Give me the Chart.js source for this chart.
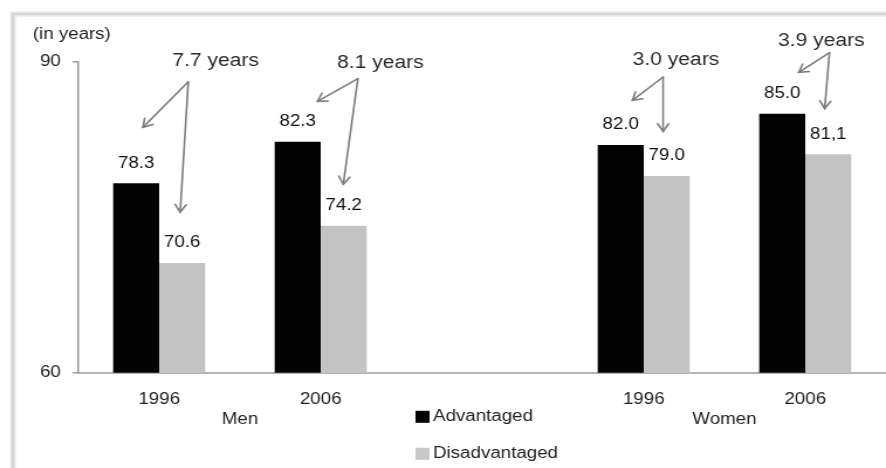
<!DOCTYPE html>
<html>
<head>
<meta charset="utf-8">
<script src="https://cdn.jsdelivr.net/npm/chart.js@4.4.1/dist/chart.umd.min.js"></script>
<style>
    body { margin: 0; background: #fff; }
</style>
</head>
<body>
<!-- the original picture is stretched sideways, so the canvas is drawn narrow and shown at full width -->
<canvas id="chart" width="757" height="468" style="display:block;width:886px;height:468px"></canvas>
<script>
const years = ['1996', '2006', '', '1996', '2006'];
const groups = ['Men', 'Women'];
const advantaged = [78.3, 82.3, null, 82.0, 85.0];
const disadvantaged = [70.6, 74.2, null, 79.0, 81.1];
const advLabels = ['78.3', '82.3', '', '82.0', '85.0'];
const disLabels = ['70.6', '74.2', '', '79.0', '81,1'];
const yTicks = [60, 90];
const gaps = ['7.7 years', '8.1 years', '3.0 years', '3.9 years'];

// where the gap notes sit: [category index, value]
const notes = [
    {text: gaps[0], at: [0.35, 90.1], from: [0.18, 88.1], to: [[-0.10, 83.7], [0.13, 75.5]]},
    {text: gaps[1], at: [1.37, 89.9], from: [1.23, 88.4], to: [[0.98, 86.2], [1.14, 78.2]]},
    {text: gaps[2], at: [3.20, 90.2], from: [3.12, 88.55], to: [[2.93, 86.3], [3.12, 83.3]]},
    {text: gaps[3], at: [4.10, 92.0], from: [4.15, 90.9], to: [[3.96, 89.0], [4.12, 85.5]]},
];
const groupAt = [0.5, 3.5];

const FONT = 'Liberation Sans, Arial, sans-serif';
Chart.defaults.font.family = FONT;
Chart.defaults.font.size = 16;
Chart.defaults.color = '#222';

const frame = {
    id: 'frame',
    beforeDraw(chart) {
        const c = chart.ctx;
        c.save();
        c.strokeStyle = '#e6e6e6';
        c.lineWidth = 5;
        c.beginPath();
        c.moveTo(11, chart.height + 5);
        c.lineTo(11, 14);
        c.lineTo(chart.width + 5, 14);
        c.stroke();
        c.strokeStyle = '#cfcfcf';
        c.lineWidth = 1.5;
        c.stroke();
        c.fillStyle = '#222';
        c.font = '16px ' + FONT;
        c.textBaseline = 'middle';
        c.fillText('(in years)', 28, 35);
        c.restore();
    }
};

const valueLabels = {
    id: 'valueLabels',
    afterDatasetsDraw(chart) {
        const c = chart.ctx;
        c.save();
        c.font = '16px ' + FONT;
        c.fillStyle = '#111';
        c.textAlign = 'center';
        c.textBaseline = 'middle';
        chart.data.datasets.forEach((ds, i) => {
            chart.getDatasetMeta(i).data.forEach((bar, j) => {
                if (ds.data[j] === null) return;
                c.fillText(ds.labels[j], bar.x, bar.y - 20);
            });
        });
        c.restore();
    }
};

function arrow(c, x1, y1, x2, y2) {
    c.beginPath();
    c.moveTo(x1, y1);
    c.lineTo(x2, y2);
    c.stroke();
    const a = Math.atan2(y2 - y1, x2 - x1);
    const h = 9;
    c.beginPath();
    c.moveTo(x2 - h * Math.cos(a - 0.55), y2 - h * Math.sin(a - 0.55));
    c.lineTo(x2, y2);
    c.lineTo(x2 - h * Math.cos(a + 0.55), y2 - h * Math.sin(a + 0.55));
    c.stroke();
}

const gapNotes = {
    id: 'gapNotes',
    afterDraw(chart) {
        const c = chart.ctx;
        const xs = chart.scales.x;
        const ys = chart.scales.y;
        const px = (p) => [xs.getPixelForValue(p[0]), ys.getPixelForValue(p[1])];
        c.save();
        c.font = '18px ' + FONT;
        c.fillStyle = '#2a2a2a';
        c.textAlign = 'center';
        c.textBaseline = 'middle';
        c.strokeStyle = '#7c7c7c';
        c.lineWidth = 1.6;
        c.lineCap = 'round';
        for (const n of notes) {
            const t = px(n.at);
            c.fillText(n.text, t[0], t[1]);
            const o = px(n.from);
            for (const end of n.to) {
                const e = px(end);
                arrow(c, o[0], o[1], e[0], e[1]);
            }
        }
        c.restore();
    }
};

const groupNames = {
    id: 'groupNames',
    afterDraw(chart) {
        const c = chart.ctx;
        const xs = chart.scales.x;
        c.save();
        c.font = '16px ' + FONT;
        c.fillStyle = '#222';
        c.textAlign = 'center';
        c.textBaseline = 'middle';
        groups.forEach((g, i) => {
            c.fillText(g, xs.getPixelForValue(groupAt[i]), chart.chartArea.bottom + 47);
        });
        c.restore();
    }
};

const sideLegend = {
    id: 'sideLegend',
    afterDraw(chart) {
        const c = chart.ctx;
        const swatch = ['#030303', '#c8c8c8'];
        c.save();
        c.font = '16px ' + FONT;
        c.textBaseline = 'middle';
        chart.data.datasets.forEach((ds, i) => {
            const y = chart.chartArea.bottom + 44 + i * 37;
            c.fillStyle = swatch[i];
            c.fillRect(355, y - 6, 12, 12);
            c.fillStyle = '#222';
            c.fillText(ds.label, 370, y);
        });
        c.restore();
    }
};

graph();

function graph() {
    const ctx = document.getElementById('chart');

    new Chart(ctx, {
        type: 'bar',
        data: {
            labels: years,
            datasets: [
                {
                    label: 'Advantaged',
                    data: advantaged,
                    backgroundColor: '#030303',
                    labels: advLabels
                },
                {
                    label: 'Disadvantaged',
                    data: disadvantaged,
                    backgroundColor: '#c3c3c3',
                    labels: disLabels
                }
            ]
        },
        options: {
            responsive: false,
            animation: false,
            layout: {
                padding: {top: 62, bottom: 42, left: 0, right: 0}
            },
            datasets: {
                bar: {
                    barPercentage: 1.0,
                    categoryPercentage: 0.57
                }
            },
            plugins: {
                legend: {display: false},
                tooltip: {enabled: false}
            },
            scales: {
                x: {
                    offset: true,
                    grid: {
                        display: false,
                        drawTicks: false
                    },
                    border: {
                        display: true,
                        color: '#b4b4b4',
                        width: 2
                    },
                    ticks: {
                        padding: 17,
                        maxRotation: 0,
                        autoSkip: false
                    }
                },
                y: {
                    min: yTicks[0],
                    max: yTicks[1],
                    afterBuildTicks: (axis) => {
                        axis.ticks = yTicks.map(v => ({value: v}));
                    },
                    afterFit: (axis) => {
                        axis.width = 67;
                    },
                    grid: {
                        drawOnChartArea: false,
                        drawTicks: true,
                        tickLength: 5,
                        color: '#9a9a9a',
                        lineWidth: 1.5
                    },
                    border: {
                        color: '#9a9a9a',
                        width: 1.5
                    },
                    ticks: {
                        padding: 10
                    }
                }
            }
        },
        plugins: [frame, valueLabels, gapNotes, groupNames, sideLegend]
    });
}
</script>
</body>
</html>
